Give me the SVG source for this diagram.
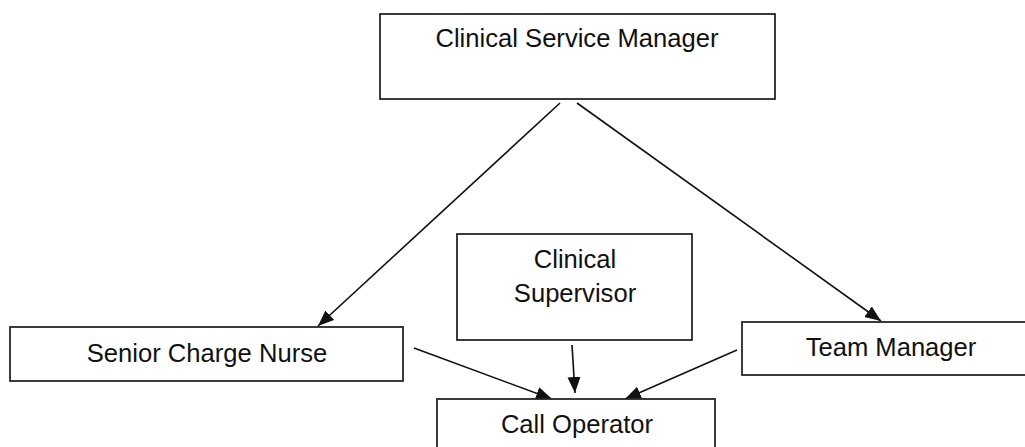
<svg xmlns="http://www.w3.org/2000/svg" width="1025" height="447" viewBox="0 0 1025 447">
<style>
.box{fill:#fff;stroke:#262626;stroke-width:1.8}
.lbl{font-family:"Liberation Sans",Arial,sans-serif;font-size:25.6px;fill:#111;text-anchor:middle}
.edge{stroke:#111;stroke-width:1.6;fill:none}
</style>
<defs>
<marker id="arr" markerUnits="userSpaceOnUse" markerWidth="17" markerHeight="14" refX="16" refY="6.5" orient="auto">
<path d="M0,0 L16,6.5 L0,13 z" fill="#111"/>
</marker>
</defs>
<rect width="1025" height="447" fill="#fff"/>
<g id="connectors">
<line class="edge" x1="560" y1="103" x2="318" y2="326" marker-end="url(#arr)"/>
<line class="edge" x1="577" y1="103" x2="881" y2="321" marker-end="url(#arr)"/>
<line class="edge" x1="414" y1="348" x2="552" y2="399" marker-end="url(#arr)"/>
<line class="edge" x1="572" y1="345" x2="575" y2="393" marker-end="url(#arr)"/>
<line class="edge" x1="737" y1="350" x2="625" y2="399" marker-end="url(#arr)"/>
</g>
<g id="csm">
<rect class="box" x="380" y="14" width="395" height="85"/>
<text class="lbl" x="577" y="47">Clinical Service Manager</text>
</g>
<g id="scn">
<rect class="box" x="10" y="327" width="393" height="54"/>
<text class="lbl" x="207" y="362">Senior Charge Nurse</text>
</g>
<g id="cs">
<rect class="box" x="457" y="234" width="235" height="106"/>
<text class="lbl" x="575" y="268">Clinical</text>
<text class="lbl" x="575" y="302">Supervisor</text>
</g>
<g id="tm">
<rect class="box" x="742" y="322" width="300" height="53"/>
<text class="lbl" x="891" y="356">Team Manager</text>
</g>
<g id="co">
<rect class="box" x="437" y="399" width="278" height="60"/>
<text class="lbl" x="577" y="433">Call Operator</text>
</g>
</svg>
